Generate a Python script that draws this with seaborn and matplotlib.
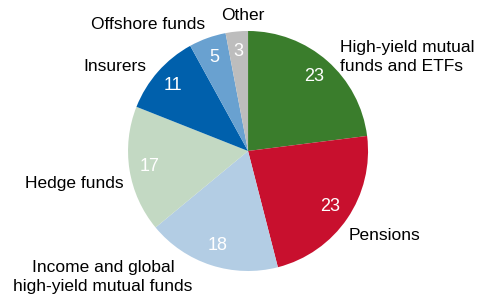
import numpy as np
import matplotlib
matplotlib.use('Agg')
import matplotlib.pyplot as plt
import seaborn as sns

# Holders of high-yield debt (percent)
labels = ['High-yield mutual\nfunds and ETFs', 'Pensions',
          'Income and global\nhigh-yield mutual funds', 'Hedge funds',
          'Insurers', 'Offshore funds', 'Other']
values = [23, 23, 18, 17, 11, 5, 3]
colors = ['#3a7d2c', '#c8102e', '#b3cde4', '#c3d9c3', '#0060ac', '#69a1d0', '#bdbdbd']

sns.set_theme(style='white')
plt.rcParams['font.family'] = ['Liberation Sans', 'DejaVu Sans']

fig = plt.figure(figsize=(4.82, 3.0), dpi=100)
ax = fig.add_axes([0.2656, 0.0967, 0.498, 0.8])
wedges, _ = ax.pie(values, colors=colors, startangle=90, counterclock=False,
                   radius=1, wedgeprops=dict(linewidth=0))
ax.set_xlim(-1, 1)
ax.set_ylim(-1, 1)

# outside label placement (x, y, ha) in pie units
lab_pos = [(0.767, 0.783, 'left'), (0.842, -0.708, 'left'),
           (-1.208, -1.05, 'center'), (-1.033, -0.267, 'right'),
           (-0.85, 0.70, 'right'), (-0.833, 1.05, 'center'),
           (-0.042, 1.133, 'center')]
for w, v, lab, (lx, ly, ha) in zip(wedges, values, labels, lab_pos):
    ang = np.deg2rad((w.theta1 + w.theta2) / 2)
    ax.text(0.83 * np.cos(ang), 0.83 * np.sin(ang), str(v), color='white',
            ha='center', va='center', fontsize=13)
    ax.text(lx, ly, lab, color='black', ha=ha, va='center', fontsize=12.5,
            linespacing=1.4, clip_on=False)

fig.savefig('out.png', dpi=100)
